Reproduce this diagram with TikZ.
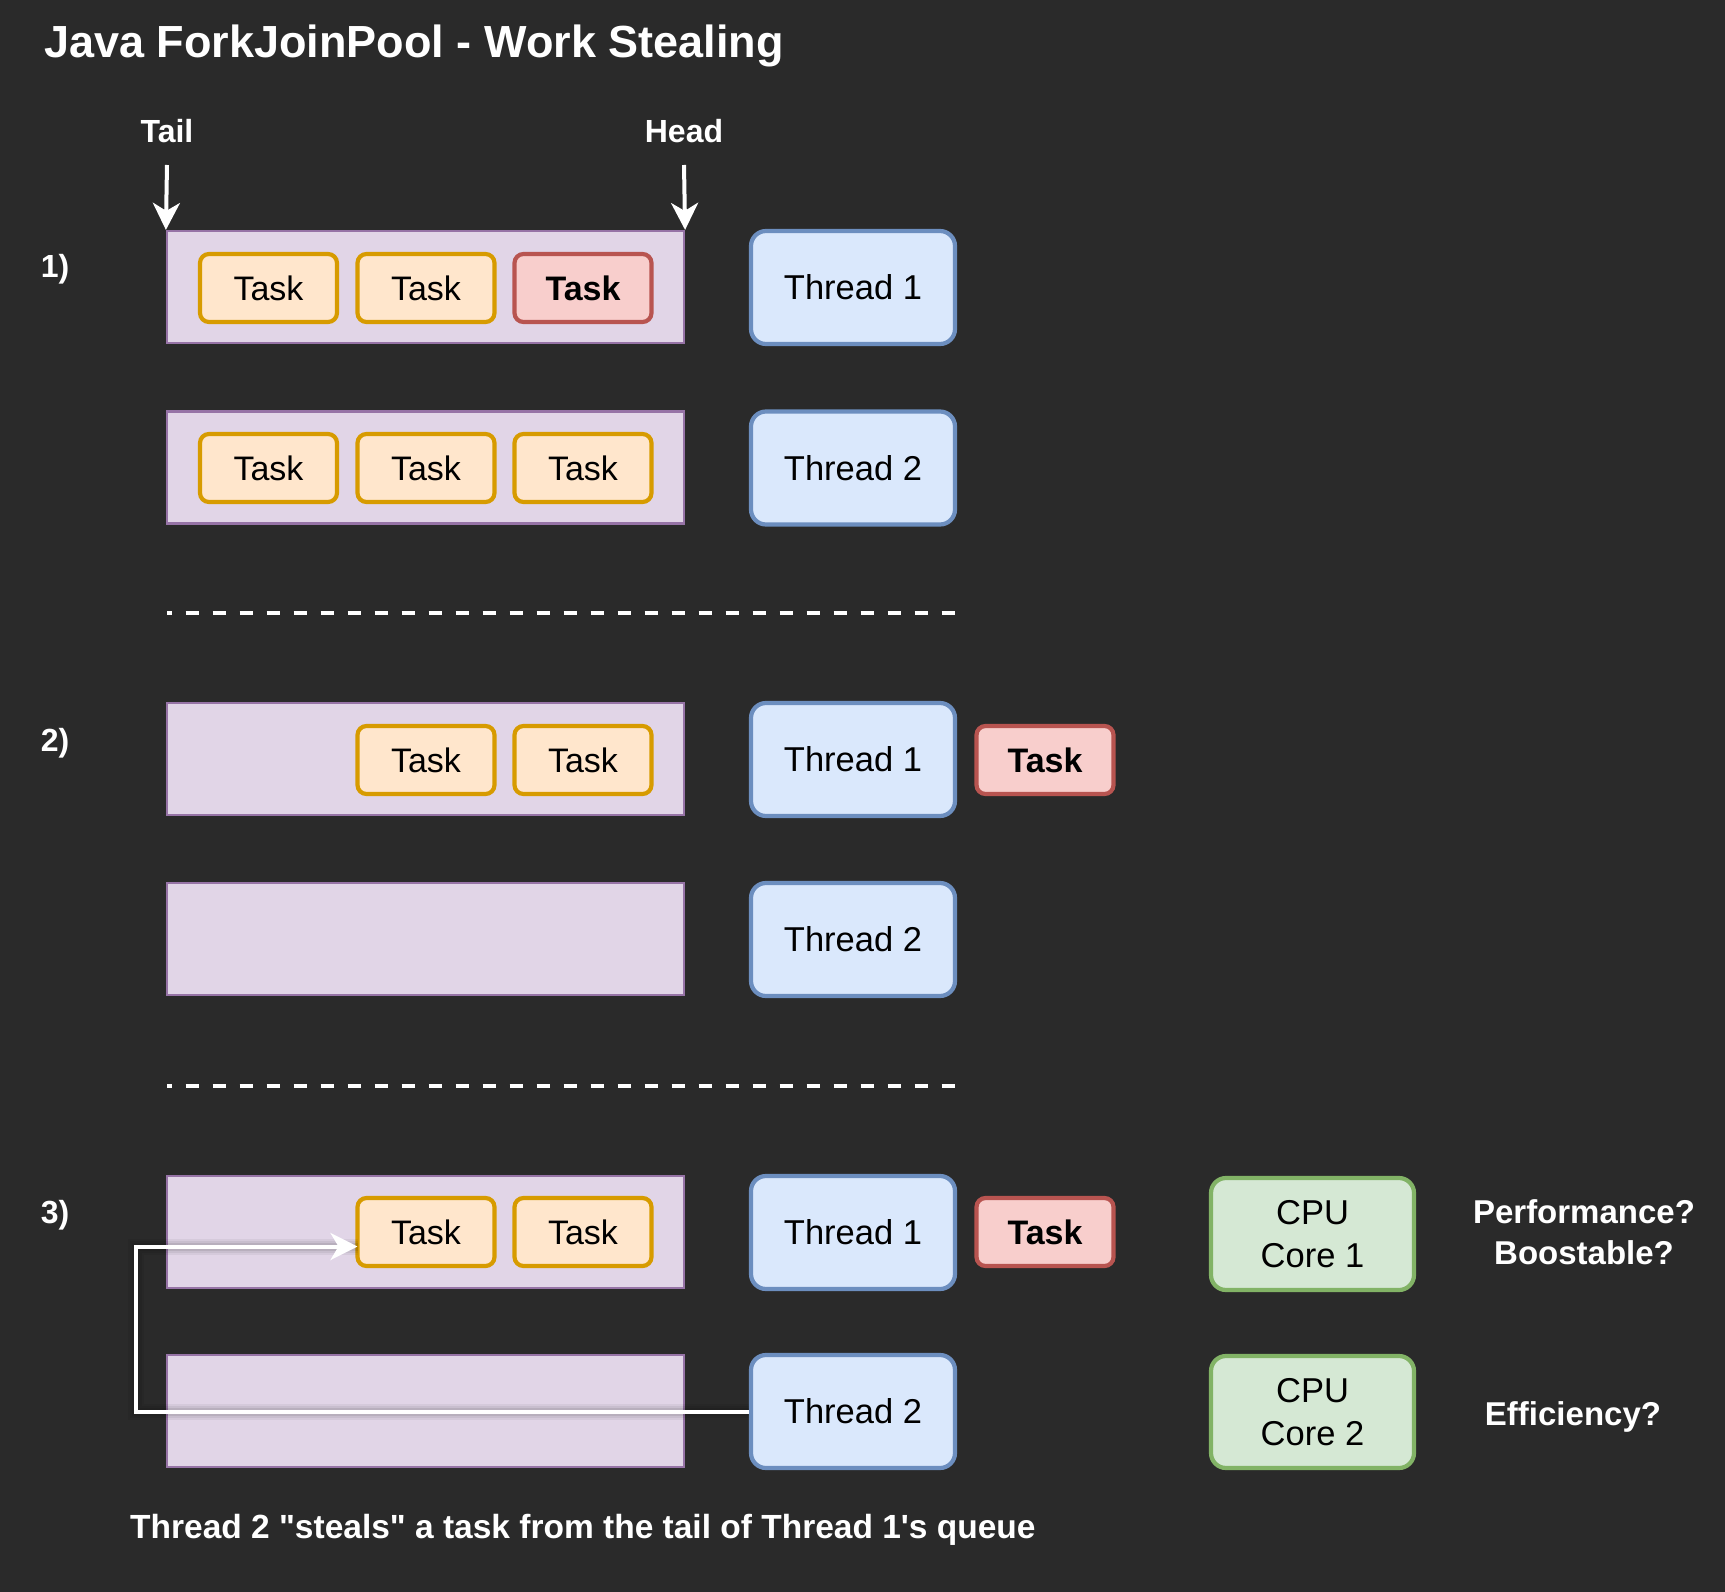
\documentclass[tikz,border=0pt]{standalone}
\usepackage{fontspec}
\setmainfont{Liberation Sans}
\usetikzlibrary{arrows.meta}
\definecolor{bg}{HTML}{2A2A2A}
\definecolor{qfill}{HTML}{E1D5E7}
\definecolor{qline}{HTML}{9673A6}
\definecolor{tfill}{HTML}{FFE6CC}
\definecolor{tline}{HTML}{D79B00}
\definecolor{rfill}{HTML}{F8CECC}
\definecolor{rline}{HTML}{B85450}
\definecolor{thfill}{HTML}{DAE8FC}
\definecolor{thline}{HTML}{6C8EBF}
\definecolor{cfill}{HTML}{D5E8D4}
\definecolor{cline}{HTML}{82B366}
\begin{document}
\begin{tikzpicture}[x=1pt,y=-1pt,
  queue/.style={draw=qline, fill=qfill, line width=2.2pt, minimum width=517pt, minimum height=112pt, inner sep=0pt},
  taskbox/.style={draw=tline, fill=tfill, line width=4.2pt, rounded corners=9pt, minimum width=137pt, minimum height=68pt, inner sep=0pt, text=black, font=\fontsize{34}{40}\selectfont},
  redtask/.style={taskbox, draw=rline, fill=rfill, font=\fontsize{34}{40}\selectfont\bfseries},
  thread/.style={draw=thline, fill=thfill, line width=4.2pt, rounded corners=15pt, minimum width=204pt, minimum height=113pt, inner sep=0pt, text=black, font=\fontsize{34.5}{40}\selectfont},
  cpu/.style={draw=cline, fill=cfill, line width=4.2pt, rounded corners=15pt, minimum width=203pt, minimum height=112pt, inner sep=0pt, text=black, align=center, font=\fontsize{34.5}{43}\selectfont},
  lbl/.style={text=white, font=\fontsize{32}{40}\selectfont\bfseries, inner sep=0pt},
  arr/.style={draw=white, line width=4pt, -{Stealth[length=27pt, width=27pt, inset=8pt]}},
  sep/.style={draw=white, line width=4.4pt, dash pattern=on 13.5pt off 13.5pt, dash phase=8.5pt}
]
\fill[bg] (0,0) rectangle (1725,1592);
\useasboundingbox (0,0) rectangle (1725,1592);

% title
\node[text=white, font=\fontsize{45}{50}\selectfont\bfseries, anchor=west, inner sep=0pt] (title) at (44,45.5) {Java ForkJoinPool - Work Stealing};

% Tail / Head
\node[lbl] (tail) at (167,131) {Tail};
\node[lbl] (head) at (684,131) {Head};

% step labels
\node[lbl] (s1) at (55,269.5) {1)};
\node[lbl] (s2) at (55,743) {2)};
\node[lbl] (s3) at (55,1215) {3)};

% ---- step 1
\node[queue] (q1) at (425.5,287) {};
\node[taskbox] (t1a) at (268.5,288) {Task};
\node[taskbox] (t1b) at (426,288) {Task};
\node[redtask] (t1c) at (583,288) {Task};
\node[thread] (th1) at (853,287.5) {Thread 1};

\node[queue] (q2) at (425.5,467.5) {};
\node[taskbox] (t2a) at (268.5,468) {Task};
\node[taskbox] (t2b) at (426,468) {Task};
\node[taskbox] (t2c) at (583,468) {Task};
\node[thread] (th2) at (853,468) {Thread 2};

\coordinate (tailstart) at (167,165);
\coordinate (headstart) at (684,165);
\draw[arr] (tailstart) -- (q1.north west);
\draw[arr] (headstart) -- (q1.north east);

% separator 1
\coordinate (sepa1) at (167,613);
\coordinate (sepb1) at (955,613);
\draw[sep] (sepa1) -- (sepb1);

% ---- step 2
\node[queue] (q3) at (425.5,759) {};
\node[taskbox] (t3b) at (426,760) {Task};
\node[taskbox] (t3c) at (583,760) {Task};
\node[thread] (th3) at (853,759.5) {Thread 1};
\node[redtask] (r3) at (1045,760) {Task};

\node[queue] (q4) at (425.5,939) {};
\node[thread] (th4) at (853,939.5) {Thread 2};

% separator 2
\coordinate (sepa2) at (167,1086);
\coordinate (sepb2) at (955,1086);
\draw[sep] (sepa2) -- (sepb2);

% ---- step 3
\node[queue] (q5) at (425.5,1232) {};
\node[taskbox] (t5b) at (426,1232) {Task};
\node[taskbox] (t5c) at (583,1232) {Task};
\node[thread] (th5) at (853,1232.5) {Thread 1};
\node[redtask] (r5) at (1045,1232) {Task};
\node[cpu] (c1) at (1312.5,1234) {CPU\\Core 1};
\node[lbl, align=center, font=\fontsize{33}{40.7}\selectfont\bfseries] (perf) at (1584,1232) {Performance?\\Boostable?};

\node[queue] (q6) at (425.5,1411) {};
\node[thread] (th6) at (853,1411.5) {Thread 2};
\node[cpu] (c2) at (1312.5,1412) {CPU\\Core 2};
\node[lbl, font=\fontsize{33}{40}\selectfont\bfseries] (eff) at (1573,1416.5) {Efficiency?};

% steal arrow (with soft shadow)
\coordinate (stealcorner) at (136,1246.5);
\coordinate (stealend) at (357.5,1246.5);
\foreach \w/\o in {16/0.05, 12/0.06, 8/0.08} {
  \draw[line width=\w pt, draw=black, opacity=\o, shift={(3pt,-7pt)}] (th6.west) -| (stealcorner) -- (stealend);
}
\draw[arr] (th6.west) -| (stealcorner) -- (stealend);

% bottom caption
\node[lbl, font=\fontsize{33.5}{40}\selectfont\bfseries, anchor=west] (cap) at (130,1529.5) {Thread 2 \textquotedbl steals\textquotedbl\ a task from the tail of Thread 1\textquotesingle s queue};
\end{tikzpicture}
\end{document}
